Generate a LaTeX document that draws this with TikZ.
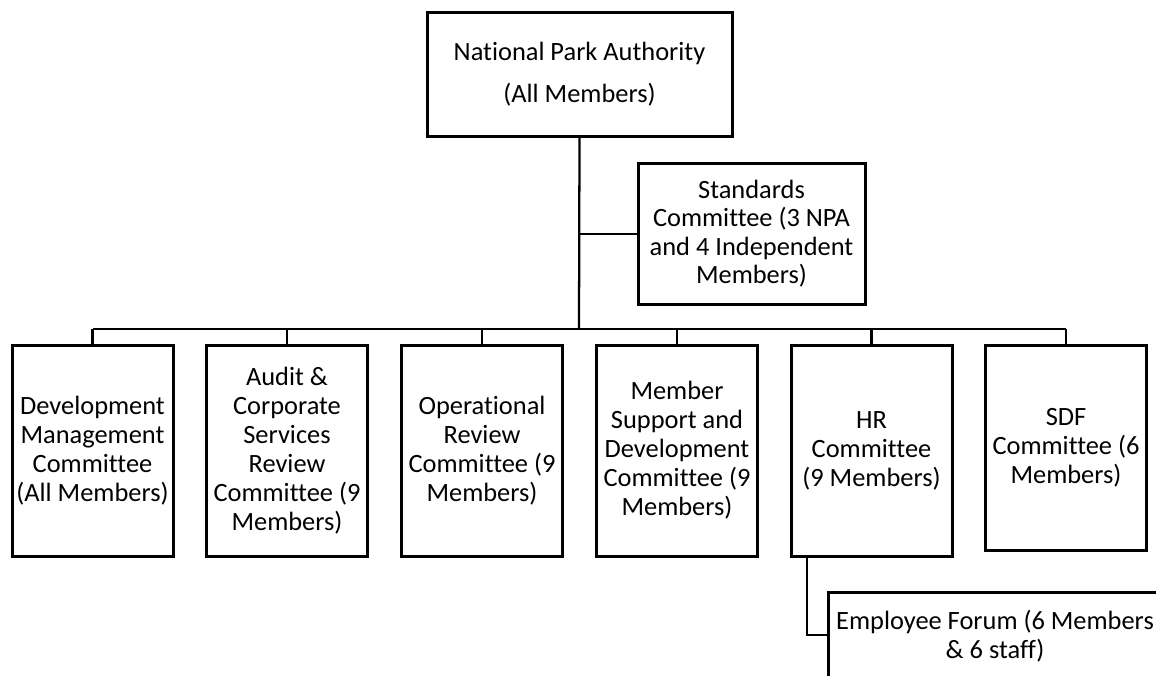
\documentclass[tikz,border=0pt]{standalone}
\usepackage{fontspec}
\setmainfont[Ligatures=NoCommon]{Carlito}
\begin{document}
\begin{tikzpicture}[x=0.75pt,y=-0.75pt,
  box/.style={draw=black, line width=2.25pt, fill=white, align=center, inner sep=0pt,
    font=\fontsize{19.8pt}{21.75pt}\selectfont},
  link/.style={draw=black, line width=1.7pt},
  txt/.style={align=center, inner sep=0pt, font=\fontsize{19.8pt}{21.75pt}\selectfont}]
\useasboundingbox (0,0) rectangle (1156,675);
\clip (0,0) rectangle (1156,675);
% top
\node[box, minimum width=305*0.75pt, minimum height=124*0.75pt,
  font=\fontsize{19.8pt}{31.5pt}\selectfont] (npa) at (579.5,74) {National Park Authority\\(All Members)};
\node[box, minimum width=227*0.75pt, minimum height=141*0.75pt,
  font=\fontsize{19.8pt}{21.3pt}\selectfont] (std) at (751.5,233.5) {Standards\\Committee (3 NPA\\and 4 Independent\\Members)};
% children
\node[box, minimum width=161*0.75pt, minimum height=211*0.75pt] (dev) at (92.5,450.5) {Development\\Management\\Committee\\(All Members)};
\node[box, minimum width=161*0.75pt, minimum height=211*0.75pt] (aud) at (287,450.5) {Audit \&\\Corporate\\Services\\Review\\Committee (9\\Members)};
\node[box, minimum width=161*0.75pt, minimum height=211*0.75pt] (ops) at (482,450.5) {Operational\\Review\\Committee (9\\Members)};
\node[box, minimum width=161*0.75pt, minimum height=211*0.75pt] (msd) at (677,450.5) {Member\\Support and\\Development\\Committee (9\\Members)};
\node[box, minimum width=161*0.75pt, minimum height=211*0.75pt] (hr) at (871.5,450.5) {HR\\Committee\\(9 Members)};
\node[box, minimum width=161*0.75pt, minimum height=205*0.75pt] (sdf) at (1066,447.5) {SDF\\Committee (6\\Members)};
% employee forum (cut by the page edge)
\node[box, anchor=north west, minimum width=336*0.75pt, minimum height=130*0.75pt] (ef) at (827,591) {};
\node[txt, anchor=north] (eft) at (995,610) {Employee Forum (6 Members\\\& 6 staff)};
% connectors
\coordinate (bus) at (579,329);
\coordinate (busL) at (92.5,329);
\coordinate (busR) at (1066,329);
\draw[link] (npa.south) -- (bus);
\draw[link] (579,234) -- (std.west |- 579,234);
\draw[link] (busL) -- (busR);
\foreach \n in {dev,aud,ops,msd,hr,sdf}{
  \draw[link] (\n.north) -- (\n.north |- bus);
}
\coordinate (hrd) at (807,635);
\draw[link] (hr.south -| hrd) -- (hrd) -- (hrd -| ef.west);
\end{tikzpicture}
\end{document}
